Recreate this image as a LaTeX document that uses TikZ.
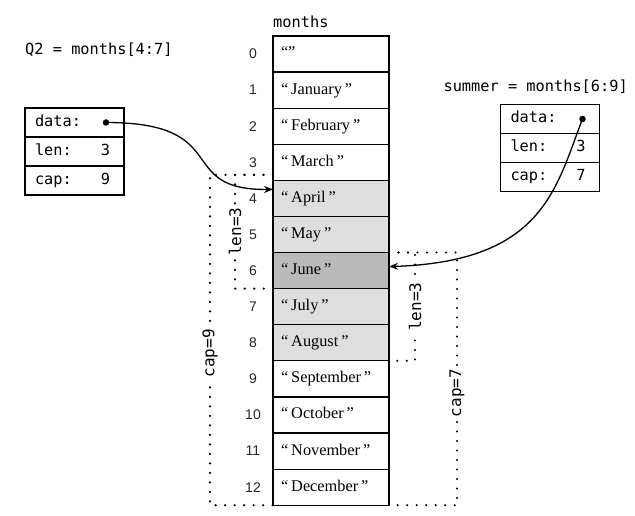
\documentclass[tikz,border=0pt]{standalone}
\usepackage{fontspec}
\setmainfont{Liberation Serif}
\setsansfont{Liberation Sans}
\setmonofont{DejaVu Sans Mono}
\usetikzlibrary{positioning, arrows.meta}

\colorlet{light}{black!13}
\colorlet{dark}{black!27}

\begin{document}
\begin{tikzpicture}[x=1pt, y=1pt, >={Stealth[length=9pt, width=7pt, inset=3pt]},
  cell/.style={draw, line width=1.2pt, outer sep=0pt, minimum height=36.1pt,
    text width=100pt, inner xsep=8pt, inner ysep=0pt, align=left,
    text height=11.5pt, text depth=3.5pt, font=\fontsize{16.3}{16}\selectfont},
  field/.style={draw, line width=1.2pt, outer sep=0pt, minimum height=29pt,
    text width=79pt, inner xsep=10pt, inner ysep=0pt, align=left,
    text height=10.5pt, text depth=3pt, font=\fontsize{15.3}{15}\ttfamily},
  idx/.style={font=\fontsize{14}{14}\sffamily, text=black!85},
  lbl/.style={inner sep=0pt, font=\fontsize{15.3}{15}\ttfamily},
  dot/.style={circle, fill, inner sep=0pt, minimum size=6.5pt},
  ptr/.style={->, line width=1.3pt},
  dots/.style={line width=2.4pt, line cap=round, dash pattern=on 0pt off 9.5pt},
  tag/.style={font=\fontsize{16}{16}\ttfamily, fill=white, rotate=90, inner sep=2pt}]

  \useasboundingbox (0,0) rectangle (635,516);

  % The months array
  \foreach \m/\shade [count=\i from 0] in {/white, January/white, February/white,
      March/white, April/light, May/light, June/dark, July/light, August/light,
      September/white, October/white, November/white, December/white} {
    \node[cell, fill=\shade] (m\i) at (331, {462-36.1*\i})
      {\ifnum\i=0 “”\else “\kern3pt\m\kern3pt”\fi};
    \node[idx] (n\i) at (253, {462-36.1*\i}) {\i};
  }
  \node[lbl, anchor=west] (mlbl) at (273,494) {months};

  % Slice Q2
  \node[lbl, anchor=west] (q2lbl) at (25,466) {Q2 = months[4:7]};
  \node[field] (q2data) at (74.5,393.5) {data:};
  \node[field, below=0pt of q2data] (q2len) {len:\hfill3\kern4pt};
  \node[field, below=0pt of q2len] (q2cap) {cap:\hfill9\kern4pt};
  \node[dot] (q2dot) at ([xshift=-18pt]q2data.east) {};

  % Slice summer
  \node[lbl, anchor=east] (slbl) at (628,429) {summer = months[6:9]};
  \node[field] (sdata) at (550,397) {data:};
  \node[field, below=0pt of sdata] (slen) {len:\hfill3\kern4pt};
  \node[field, below=0pt of slen] (scap) {cap:\hfill7\kern4pt};
  \node[dot] (sdot) at ([xshift=-17pt]sdata.east) {};

  % Pointers into the array
  \draw[ptr] (q2dot.center) .. controls +(129,0) and +(-100,-1) .. ([yshift=9pt]m4.west);
  \draw[ptr] (sdot.center) .. controls +(-27,-70) and +(154,5) .. ([yshift=4pt]m6.east);

  % len and cap of Q2
  \coordinate (qtop) at ([yshift=5.5pt]m4.north west);
  \draw[dots] (qtop) -- ++(-38,0) coordinate (qlen)
    -- (qlen |- m6.south west) node[tag, midway] {len=3} -- (m6.south west);
  \draw[dots] (qtop) -- ++(-63,0) coordinate (qcap)
    -- (qcap |- m12.south west) node[tag, pos=0.54] {cap=9} -- (m12.south west);

  % len and cap of summer
  \draw[dots] (m6.north east) -- ++(26,0) coordinate (slenx)
    -- (slenx |- m8.south east) node[tag, midway] {len=3} -- (m8.south east);
  \draw[dots] (m6.north east) -- ++(68,0) coordinate (scapx)
    -- (scapx |- m12.south east) node[tag, pos=0.556] {cap=7} -- (m12.south east);
\end{tikzpicture}
\end{document}
